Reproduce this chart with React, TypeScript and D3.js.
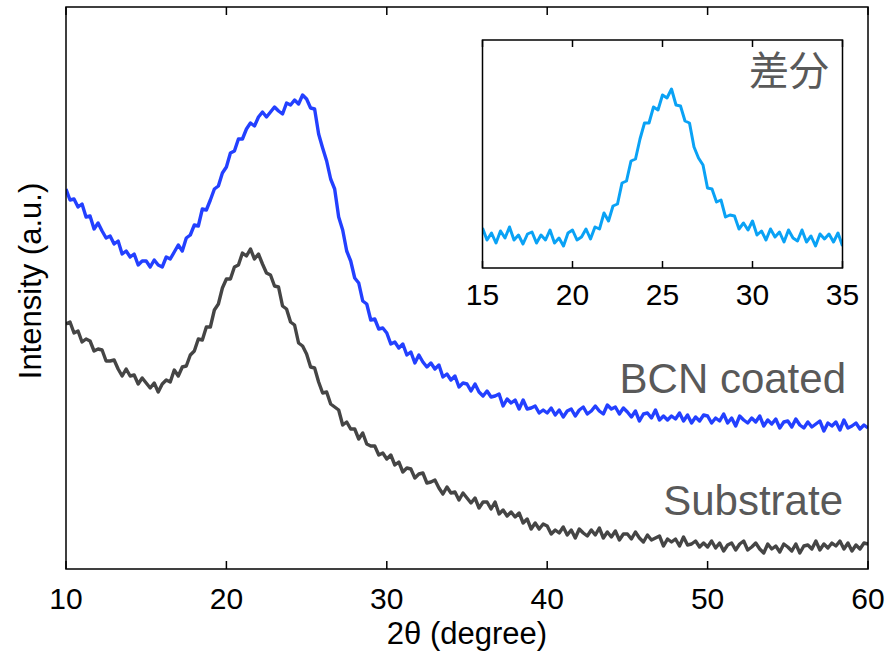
import React from "react";
import * as d3 from "d3";

// main plot: 2θ from 10° to 60°, one reading every 0.25°
const mainStart = 10;
const mainStep = 0.25;
const mainTicks = [10, 20, 30, 40, 50, 60];

const bcnCoated = [
  380, 369, 370, 362, 365, 352, 353, 340, 346, 338,
  331, 333, 325, 328, 315, 318, 312, 315, 304, 308,
  308, 302, 309, 304, 302, 312, 310, 317, 324, 318,
  331, 334, 344, 343, 360, 359, 369, 380, 383, 396,
  402, 416, 418, 430, 430, 440, 446, 443, 452, 457,
  452, 457, 462, 458, 455, 466, 464, 469, 465, 474,
  470, 461, 460, 435, 421, 408, 390, 380, 352, 339,
  318, 308, 291, 286, 268, 265, 249, 250, 240, 241,
  236, 225, 227, 221, 225, 214, 217, 206, 214, 207,
  202, 206, 200, 204, 192, 195, 189, 193, 182, 186,
  185, 178, 185, 177, 173, 178, 172, 173, 175, 163,
  170, 166, 169, 160, 169, 160, 161, 163, 156, 159,
  156, 161, 154, 159, 152, 158, 160, 153, 159, 162,
  155, 158, 163, 158, 155, 164, 160, 162, 155, 161,
  157, 152, 158, 148, 155, 156, 151, 159, 149, 153,
  149, 153, 150, 156, 148, 154, 146, 152, 148, 154,
  153, 146, 151, 148, 155, 146, 151, 143, 153, 149,
  146, 151, 147, 153, 143, 149, 145, 150, 141, 147,
  148, 142, 150, 144, 141, 147, 142, 145, 148, 138,
  146, 143, 147, 139, 149, 141, 143, 146, 140, 144,
  141,
];

const substrate = [
  245, 247, 236, 238, 227, 230, 228, 218, 220, 219,
  208, 208, 209, 200, 193, 200, 193, 194, 185, 191,
  186, 181, 186, 177, 185, 189, 187, 199, 193, 202,
  203, 214, 218, 230, 229, 242, 242, 259, 265, 281,
  290, 290, 302, 304, 316, 313, 320, 310, 315, 305,
  296, 294, 283, 282, 263, 260, 247, 244, 226, 223,
  215, 202, 201, 187, 176, 177, 165, 162, 159, 144,
  147, 140, 140, 130, 136, 125, 123, 123, 114, 116,
  110, 114, 104, 107, 97, 101, 100, 91, 95, 96,
  86, 87, 89, 81, 75, 82, 76, 77, 69, 76,
  71, 66, 71, 61, 67, 67, 60, 67, 55, 59,
  53, 57, 52, 56, 46, 50, 40, 46, 40, 45,
  43, 35, 39, 36, 42, 34, 39, 31, 40, 36,
  33, 39, 34, 41, 31, 37, 32, 38, 29, 35,
  35, 30, 37, 31, 27, 34, 29, 31, 33, 23,
  30, 27, 30, 23, 32, 24, 25, 28, 22, 26,
  22, 28, 21, 26, 18, 24, 26, 19, 25, 28,
  19, 22, 26, 20, 16, 25, 20, 23, 17, 25,
  22, 18, 25, 16, 23, 24, 20, 28, 19, 25,
  21, 26, 23, 28, 20, 26, 18, 24, 20, 26,
  25,
];

// inset (差分): 2θ from 15° to 35°, one reading every 0.25°
const insetStart = 15;
const insetStep = 0.25;
const insetTicks = [15, 20, 25, 30, 35];

const difference = [
  40, 28, 35, 25, 37, 30, 41, 28, 33, 24,
  34, 36, 25, 33, 28, 38, 25, 30, 22, 35,
  38, 28, 31, 39, 29, 41, 39, 55, 47, 62,
  64, 85, 87, 107, 109, 129, 145, 145, 161, 158,
  173, 170, 179, 163, 162, 147, 145, 121, 110, 103,
  80, 79, 66, 68, 51, 53, 52, 39, 45, 38,
  47, 33, 37, 28, 39, 31, 36, 26, 38, 30,
  27, 38, 26, 32, 22, 34, 29, 34, 26, 35,
  22,
];

const W = 885;
const H = 652;
const font = "'Liberation Sans', Arial, Helvetica, sans-serif";
const labelGray = "#595959";

export default function App() {
  const x = d3.scaleLinear().domain([10, 60]).range([66, 868]);
  const y = d3.scaleLinear().domain([0, 562]).range([569, 7]);

  const ix = d3.scaleLinear().domain([15, 35]).range([482.5, 842.5]);
  const iy = d3.scaleLinear().domain([0, 228]).range([268, 40]);

  const mainLine = d3
    .line<number>()
    .x((d, i) => x(mainStart + i * mainStep))
    .y((d) => y(d));

  const insetLine = d3
    .line<number>()
    .x((d, i) => ix(insetStart + i * insetStep))
    .y((d) => iy(d));

  const [x0, x1] = x.range();
  const [y0, y1] = y.range();
  const [ix0, ix1] = ix.range();
  const [iy0, iy1] = iy.range();

  return (
    <svg
      width={W}
      height={H}
      style={{ position: "absolute", left: 0, top: 0, background: "#fff" }}
    >
      <defs>
        <clipPath id="mainClip">
          <rect x={x0} y={y1} width={x1 - x0} height={y0 - y1} />
        </clipPath>
        <clipPath id="insetClip">
          <rect x={ix0} y={iy1} width={ix1 - ix0} height={iy0 - iy1} />
        </clipPath>
      </defs>
      <rect width={W} height={H} fill="#fff" />

      <g clipPath="url(#mainClip)" fill="none" strokeLinejoin="round">
        <path d={mainLine(substrate) || ""} stroke="#454545" strokeWidth={3.4} />
        <path d={mainLine(bcnCoated) || ""} stroke="#2340ff" strokeWidth={3.4} />
      </g>

      {/* main frame and ticks */}
      <rect x={x0} y={y1} width={x1 - x0} height={y0 - y1} fill="none" stroke="#000" strokeWidth={1.5} />
      {mainTicks.map((t) => (
        <g key={t}>
          <line x1={x(t)} x2={x(t)} y1={y0} y2={y0 - 8} stroke="#000" strokeWidth={1.5} />
          <line x1={x(t)} x2={x(t)} y1={y1} y2={y1 + 8} stroke="#000" strokeWidth={1.5} />
          <text x={x(t)} y={609} textAnchor="middle" fontFamily={font} fontSize={30} fill="#000">
            {t}
          </text>
        </g>
      ))}
      <text x={(x0 + x1) / 2} y={644} textAnchor="middle" fontFamily={font} fontSize={31} fill="#000">
        2θ (degree)
      </text>
      <text
        transform={`translate(41, 281) rotate(-90)`}
        textAnchor="middle"
        fontFamily={font}
        fontSize={31}
        fill="#000"
      >
        Intensity (a.u.)
      </text>

      <text x={846} y={393} textAnchor="end" fontFamily={font} fontSize={42} fill={labelGray}>
        BCN coated
      </text>
      <text x={843} y={515} textAnchor="end" fontFamily={font} fontSize={42} fill={labelGray}>
        Substrate
      </text>

      {/* inset */}
      <rect x={ix0} y={iy1} width={ix1 - ix0} height={iy0 - iy1} fill="#fff" />
      <g clipPath="url(#insetClip)" fill="none" strokeLinejoin="round">
        <path d={insetLine(difference) || ""} stroke="#0aa2f5" strokeWidth={3} />
      </g>
      <rect x={ix0} y={iy1} width={ix1 - ix0} height={iy0 - iy1} fill="none" stroke="#000" strokeWidth={1.5} />
      {insetTicks.map((t) => (
        <g key={t}>
          <line x1={ix(t)} x2={ix(t)} y1={iy0} y2={iy0 - 7} stroke="#000" strokeWidth={1.5} />
          <line x1={ix(t)} x2={ix(t)} y1={iy1} y2={iy1 + 7} stroke="#000" strokeWidth={1.5} />
          <text x={ix(t)} y={305} textAnchor="middle" fontFamily={font} fontSize={30} fill="#000">
            {t}
          </text>
        </g>
      ))}
      <text
        x={829}
        y={85}
        textAnchor="end"
        fontFamily="'Noto Sans CJK JP', 'Noto Sans CJK SC', sans-serif"
        fontSize={40}
        fill={labelGray}
      >
        差分
      </text>
    </svg>
  );
}
